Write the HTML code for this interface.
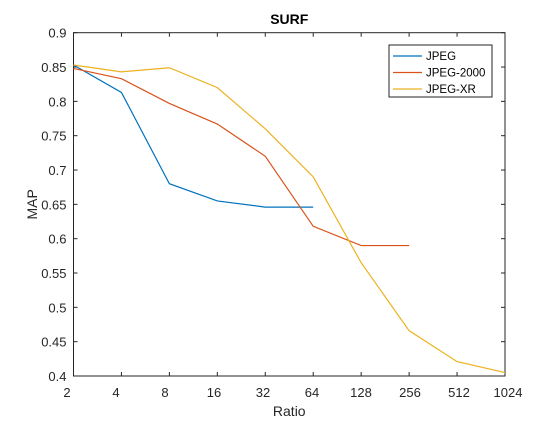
<!DOCTYPE html>
<html><head><meta charset="utf-8"><style>
body{margin:0;background:#fff;}
svg{display:block;font-family:"Liberation Sans",Arial,sans-serif;}
</style></head><body>
<svg id="chart" width="559" height="424">
<rect x="0" y="0" width="559" height="424" fill="#fff"/>
</svg>
<script>
const xLabels=["2","4","8","16","32","64","128","256","512","1024"];
const yTicks=[0.4,0.45,0.5,0.55,0.6,0.65,0.7,0.75,0.8,0.85,0.9];
const seriesNames=["JPEG","JPEG-2000","JPEG-XR"];
const jpegVals=[0.853,0.813,0.680,0.655,0.646,0.646];
const jp2Vals=[0.848,0.833,0.797,0.767,0.720,0.618,0.590,0.590];
const xrVals=[0.853,0.843,0.849,0.820,0.760,0.690,0.565,0.466,0.421,0.405];
const colors=["#0072BD","#D95319","#EDB120"];
const L=73.5,R=505,T=32.7,B=376;
const xs=i=>L+(R-L)*i/(xLabels.length-1);
const xl=i=>67+(508-67)*i/(xLabels.length-1);
const ys=v=>B-(v-0.4)/(0.5)*(B-T);
const svg=document.getElementById('chart');
const NS="http://www.w3.org/2000/svg";
function mk(t,a,p){const e=document.createElementNS(NS,t);for(const k in a)e.setAttribute(k,a[k]);(p||svg).appendChild(e);return e;}
const frame=mk('rect',{x:L,y:T,width:R-L,height:B-T,fill:'none',stroke:'#262626','stroke-width':1});


xLabels.forEach((lb,i)=>{
 const x=xs(i);
 mk('line',{x1:x,y1:B,x2:x,y2:B-4,stroke:'#262626'});
 mk('line',{x1:x,y1:T,x2:x,y2:T+4,stroke:'#262626'});
 const t=mk('text',{x:xl(i),y:B+21,'text-anchor':'middle','font-size':13,fill:'#262626'});
 t.textContent=lb;
 
 
});
yTicks.forEach(v=>{
 const y=ys(v);
 mk('line',{x1:L,y1:y,x2:L+4,y2:y,stroke:'#262626'});
 mk('line',{x1:R,y1:y,x2:R-4,y2:y,stroke:'#262626'});
 const t=mk('text',{x:L-7,y:y+5,'text-anchor':'end','font-size':13,fill:'#262626'});
 t.textContent=String(v);
 
 
});
[jpegVals,jp2Vals,xrVals].forEach((vals,s)=>{
 const p=mk('polyline',{points:vals.map((v,i)=>xs(i)+','+ys(v)).join(' '),fill:'none',stroke:colors[s],'stroke-width':1.2});
 
 
});
const lg=mk('rect',{x:389,y:45,width:103,height:52,fill:'#fff',stroke:'#262626'});


seriesNames.forEach((n,i)=>{
 const y=56+i*16.5;
 mk('line',{x1:393,y1:y,x2:422,y2:y,stroke:colors[i],'stroke-width':1.2});
 const t=mk('text',{x:426,y:y+4,'font-size':11.5,fill:'#000'});
 t.textContent=n;
 
 
});
const title=mk('text',{x:(L+R)/2,y:24,'text-anchor':'middle','font-size':14,'font-weight':'bold',fill:'#000'});
title.textContent='SURF';


const xt=mk('text',{x:(L+R)/2,y:416,'text-anchor':'middle','font-size':14,fill:'#262626'});
xt.textContent='Ratio';


const yt=mk('text',{x:0,y:0,'text-anchor':'middle','font-size':14,fill:'#262626',transform:'translate(37,'+((T+B)/2)+') rotate(-90)'});
yt.textContent='MAP';


</script>
</body></html>
